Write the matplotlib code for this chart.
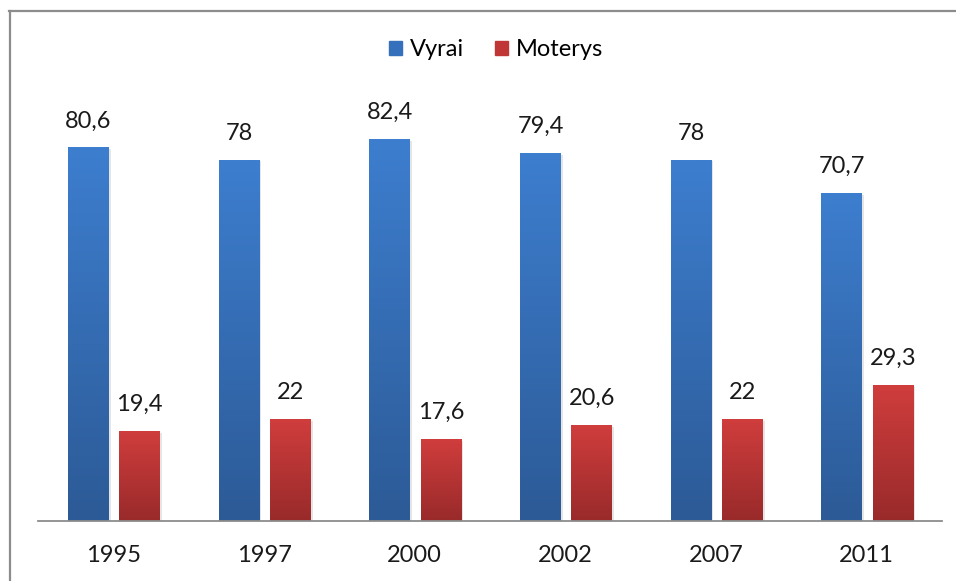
import matplotlib.pyplot as plt
import numpy as np
from matplotlib.colors import LinearSegmentedColormap
from matplotlib.lines import Line2D
from matplotlib.patches import Rectangle

years = ["1995", "1997", "2000", "2002", "2007", "2011"]
vyrai = [80.6, 78, 82.4, 79.4, 78, 70.7]
moterys = [19.4, 22, 17.6, 20.6, 22, 29.3]
series = ["Vyrai", "Moterys"]

plt.rcParams['font.family'] = ['Lato', 'DejaVu Sans']

fig = plt.figure(figsize=(9.56, 5.81), dpi=100)
ax = fig.add_axes([38/956, 60/581, 904/956, 421/581])

blue_cm = LinearSegmentedColormap.from_list("b", ["#2c5a96", "#3d7ecf"])
red_cm = LinearSegmentedColormap.from_list("r", ["#992a2a", "#d03d3d"])
grad = np.linspace(0, 1, 256).reshape(-1, 1)

w = 0.27
x = np.arange(len(years))

def gbar(xc, h, cmap):
    x0, x1 = xc - w / 2, xc + w / 2
    # soft shadow
    ax.add_patch(Rectangle((x0 + 0.012, 0), w, h - 0.3, color="#000000",
                           alpha=0.10, lw=0, zorder=1))
    ax.imshow(grad, extent=[x0, x1, 0, h], origin="lower", cmap=cmap,
              aspect="auto", zorder=2, interpolation="bilinear")

for i in range(len(years)):
    gbar(x[i] - 0.165, vyrai[i], blue_cm)
    gbar(x[i] + 0.175, moterys[i], red_cm)
    for xc, v in ((x[i] - 0.165, vyrai[i]), (x[i] + 0.175, moterys[i])):
        ax.annotate(f"{v:g}".replace(".", ","), (xc, v), xytext=(0, 27),
                    textcoords="offset pixels", ha="center", va="center",
                    fontsize=17, color="#1a1a1a")

ax.set_xlim(-0.5, len(years) - 0.5)
ax.set_ylim(0, 421 / 4.628)
ax.set_xticks(x)
ax.set_xticklabels(years, fontsize=17, color="#1a1a1a")
ax.tick_params(axis="x", length=0, pad=17)
ax.set_yticks([])
for s in ("top", "right", "left"):
    ax.spines[s].set_visible(False)
ax.spines["bottom"].set_color("#8c8c8c")
ax.spines["bottom"].set_linewidth(1.3)
ax.spines["bottom"].set_zorder(3)

handles = [Rectangle((0, 0), 1, 1, color="#3470bb"),
           Rectangle((0, 0), 1, 1, color="#c03636")]
fig.legend(handles, series, loc="center", bbox_to_anchor=(496/956, 1 - 50/581),
           ncol=2, frameon=False, fontsize=17, handlelength=0.55,
           handleheight=0.55, handletextpad=0.35, columnspacing=1.3)

# outer chart border (left and top visible)
fig.add_artist(Line2D([10/956, 10/956], [0, 1 - 11/581], color="#8c8c8c",
                      lw=1.6, transform=fig.transFigure))
fig.add_artist(Line2D([9.2/956, 1], [1 - 11/581, 1 - 11/581], color="#8c8c8c",
                      lw=1.6, transform=fig.transFigure))

fig.savefig("out.png", dpi=100)
